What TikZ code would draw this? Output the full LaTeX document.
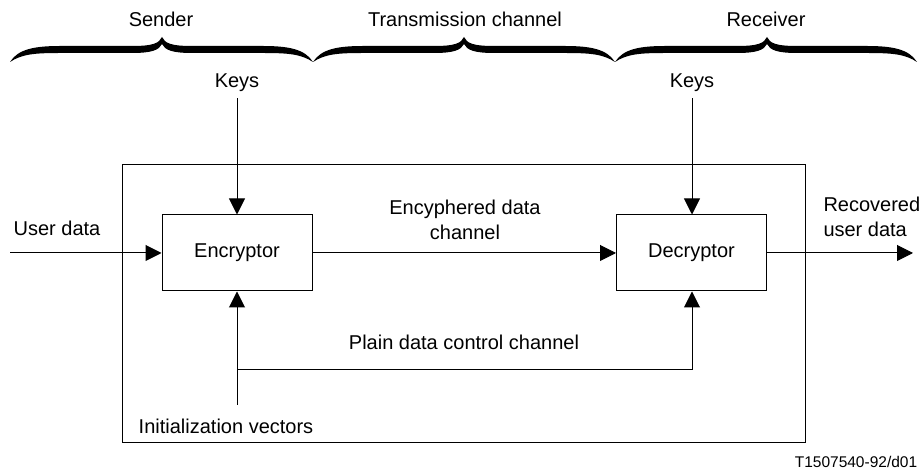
\documentclass[tikz,border=0pt]{standalone}
\usepackage{fontspec}
\setmainfont{Liberation Sans}
\usetikzlibrary{arrows.meta}
\tikzset{%
  blk/.style={draw,minimum width=75pt,minimum height=38pt,inner sep=0},
  arr/.style={-{Triangle[length=8pt,width=8pt]}},
  lbl/.style={align=center,inner sep=0}
}
% filled curly brace: left end, tip, right end
\newcommand{\hbrc}[3]{%
  \fill (#1,62) .. controls ({#1+8},49) and ({#1+25},46) .. ({#1+50},46)
    -- ({#2-30},46) .. controls ({#2-8},46) and ({#2-3},43) .. (#2,37)
    .. controls ({#2+3},43) and ({#2+8},46) .. ({#2+30},46)
    -- ({#3-50},46) .. controls ({#3-25},46) and ({#3-8},49) .. (#3,62)
    .. controls ({#3-12},54) and ({#3-25},53) .. ({#3-50},53)
    -- ({#2+30},53) .. controls ({#2+10},53) and ({#2+3},50) .. (#2,44)
    .. controls ({#2-3},50) and ({#2-10},53) .. ({#2-30},53)
    -- ({#1+50},53) .. controls ({#1+25},53) and ({#1+12},54) .. (#1,62) -- cycle;}

\begin{document}
\begin{tikzpicture}[x=0.5pt,y=-0.5pt,line width=0.5pt,font=\fontsize{10}{12.5}\selectfont]
    \useasboundingbox (0,0) rectangle (923,475);
    % braces over the three parts
    \hbrc{10}{162}{313}
    \hbrc{313}{464}{615}
    \hbrc{615}{767}{917}
    \node (snd)[lbl] at (161,19){Sender};
    \node (chn)[lbl] at (465,19){Transmission channel};
    \node (rcv)[lbl] at (766,19){Receiver};
    % frame
    \draw (122,165) rectangle (805,443);
    \path
      (237,253) node (enc)[blk]{Encryptor}
      (691.5,253) node (dec)[blk]{Decryptor}
      (237,83) node (k1)[inner sep=3pt]{Keys}
      (692,83) node (k2)[inner sep=3pt]{Keys};
    \coordinate (uin) at (10,253);
    \coordinate (uout) at (913,253);
    \coordinate (iv) at (237,405);
    \coordinate (jn) at (237,370);
    \draw[arr] (k1.south) -- (enc.north);
    \draw[arr] (k2.south) -- (k2.south |- dec.north);
    \draw[arr] (uin) -- (enc.west);
    \draw[arr] (enc.east) -- (dec.west);
    \draw[arr] (dec.east) -- (uout);
    \draw[arr] (iv) -- (enc.south);
    \draw[arr] (jn) -| (k2.south |- dec.south);
    \node (ud)[lbl] at (57,228){User data};
    \node (rud)[lbl,align=left,anchor=west] at (823,217){Recovered\\user data};
    \node (ecd)[lbl] at (465,220){Encyphered data\\channel};
    \node (pdc)[lbl] at (464,342){Plain data control channel};
    \node (ivl)[lbl] at (226,426){Initialization vectors};
    \node (ref)[lbl,font=\fontsize{7.75}{9}\selectfont] at (856,462){T1507540-92/d01};
  \end{tikzpicture}
\end{document}
